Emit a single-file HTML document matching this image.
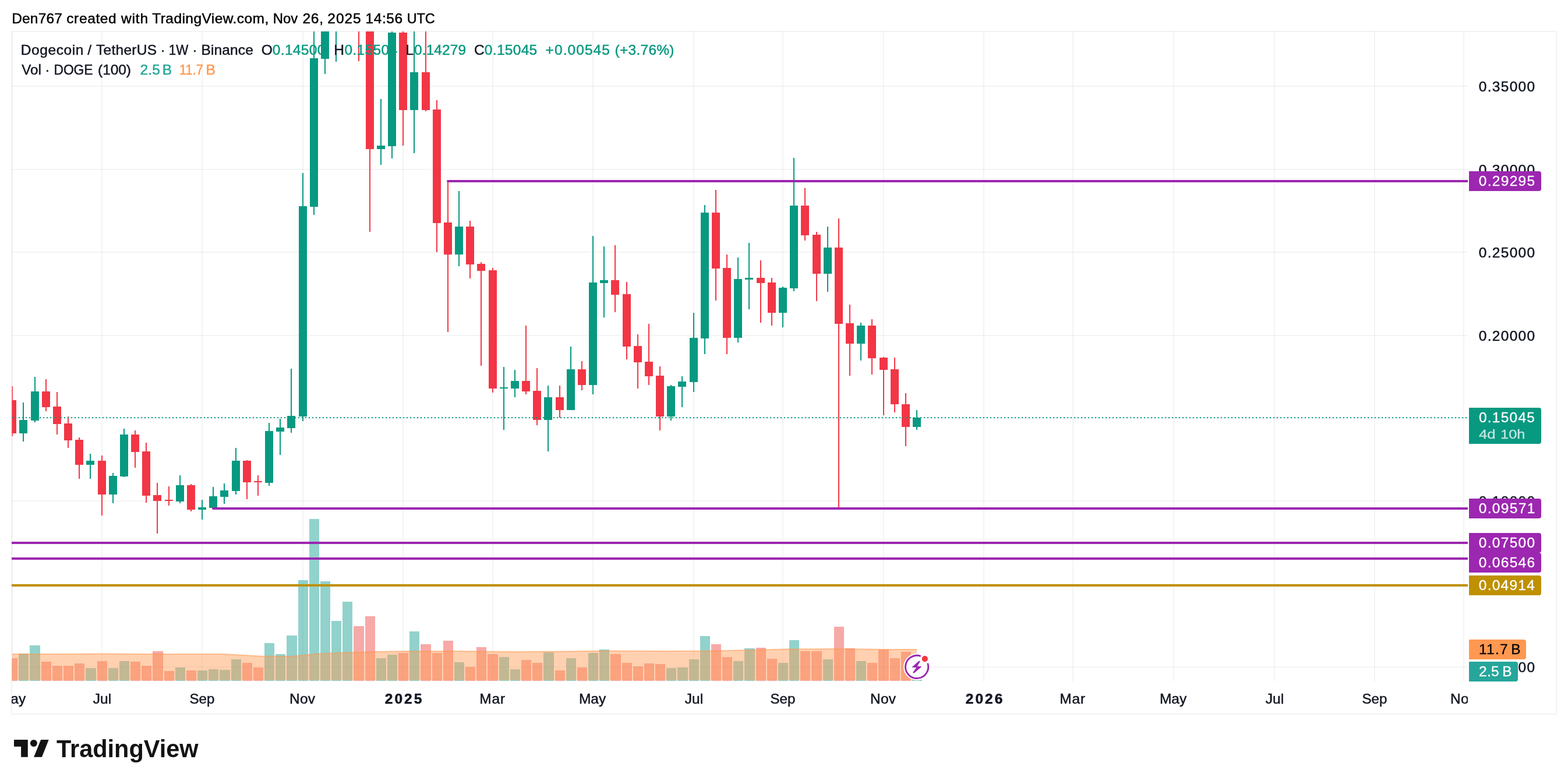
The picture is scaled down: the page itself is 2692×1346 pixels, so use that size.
<!DOCTYPE html>
<html lang="en"><head><meta charset="utf-8"><title>DOGEUSDT 1W chart</title>
<style>
html,body{margin:0;padding:0;background:#fff;overflow:hidden;}
svg{display:block;width:100vw;height:auto;}
text{font-family:"Liberation Sans",sans-serif;font-size:24.5px;stroke-width:0.5px;stroke-linejoin:round;white-space:pre;}
.d,.db{fill:#131722;stroke:#131722;}
.g,.gb{fill:#089981;stroke:#089981;}
.w,.wb{fill:#ffffff;stroke:#ffffff;}
.t,.tb{fill:#26a69a;stroke:#26a69a;}
.o,.ob{fill:#ff9850;stroke:#ff9850;}
.k,.kb{fill:#000000;stroke:#000000;}
.f,.fb{fill:#ffffff;stroke:#ffffff;}
.db,.wb,.gb{font-weight:bold;}
.f{opacity:.76;}
</style></head><body>
<svg viewBox="0 0 2692 1346" preserveAspectRatio="xMinYMin meet" role="img" aria-label="Dogecoin / TetherUS weekly chart">
<defs><clipPath id="pane"><rect x="20.5" y="54" width="2499.5" height="1116"/></clipPath>
<clipPath id="tclip"><rect x="20" y="1170" width="2500" height="56"/></clipPath></defs>
<rect width="2692" height="1346" fill="#fff"/>
<rect x="20" y="54" width="2652" height="1172" fill="none" stroke="#f2f2f2" stroke-width="2" shape-rendering="crispEdges"/>
<text x="20.15" y="40" class="k" style="letter-spacing:0.20px;">Den767</text>
<text x="114.25" y="40" class="k" style="letter-spacing:0.62px;">created</text>
<text x="208.05" y="40" class="k" style="letter-spacing:0.80px;">with</text>
<text x="261.25" y="40" class="k" style="letter-spacing:0.44px;">TradingView.com,</text>
<text transform="translate(470.40 40) scale(0.9738 1)" x="-1.75" y="0" class="k">Nov</text>
<text x="519.60" y="40" class="k" style="letter-spacing:0.65px;">26,</text>
<text x="562.30" y="40" class="k" style="letter-spacing:0.98px;">2025</text>
<text x="627.60" y="40" class="k" style="letter-spacing:0.53px;">14:56</text>
<text transform="translate(700.30 40) scale(0.9563 1)" x="-1.75" y="0" class="k">UTC</text>
<g id="grid" fill="#2a2e39" fill-opacity="0.056" shape-rendering="crispEdges" clip-path="url(#pane)">
<rect x="20" y="54" width="2" height="1116"/>
<rect x="174" y="54" width="2" height="1116"/>
<rect x="346" y="54" width="2" height="1116"/>
<rect x="519" y="54" width="2" height="1116"/>
<rect x="691" y="54" width="2" height="1116"/>
<rect x="845" y="54" width="2" height="1116"/>
<rect x="1017" y="54" width="2" height="1116"/>
<rect x="1190" y="54" width="2" height="1116"/>
<rect x="1343" y="54" width="2" height="1116"/>
<rect x="1516" y="54" width="2" height="1116"/>
<rect x="1688" y="54" width="2" height="1116"/>
<rect x="1841" y="54" width="2" height="1116"/>
<rect x="2014" y="54" width="2" height="1116"/>
<rect x="2187" y="54" width="2" height="1116"/>
<rect x="2359" y="54" width="2" height="1116"/>
<rect x="2512" y="54" width="2" height="1116"/>
<rect x="20" y="147" width="2500" height="2"/>
<rect x="20" y="290" width="2500" height="2"/>
<rect x="20" y="432" width="2500" height="2"/>
<rect x="20" y="575" width="2500" height="2"/>
<rect x="20" y="717" width="2500" height="2"/>
<rect x="20" y="859" width="2500" height="2"/>
<rect x="20" y="1002" width="2500" height="2"/>
<rect x="20" y="1144" width="2500" height="2"/>
</g>
<g id="volume" clip-path="url(#pane)" shape-rendering="crispEdges">
<rect x="13" y="1130" width="17" height="39" fill="#ef5350" fill-opacity="0.5"/>
<rect x="32" y="1122" width="17" height="47" fill="#26a69a" fill-opacity="0.5"/>
<rect x="51" y="1108" width="18" height="61" fill="#26a69a" fill-opacity="0.5"/>
<rect x="71" y="1136" width="17" height="33" fill="#ef5350" fill-opacity="0.5"/>
<rect x="90" y="1143" width="17" height="26" fill="#ef5350" fill-opacity="0.5"/>
<rect x="109" y="1143" width="17" height="26" fill="#ef5350" fill-opacity="0.5"/>
<rect x="128" y="1139" width="17" height="30" fill="#ef5350" fill-opacity="0.5"/>
<rect x="147" y="1147" width="18" height="22" fill="#26a69a" fill-opacity="0.5"/>
<rect x="167" y="1135" width="17" height="34" fill="#ef5350" fill-opacity="0.5"/>
<rect x="186" y="1147" width="17" height="22" fill="#26a69a" fill-opacity="0.5"/>
<rect x="205" y="1135" width="17" height="34" fill="#26a69a" fill-opacity="0.5"/>
<rect x="224" y="1136" width="17" height="33" fill="#ef5350" fill-opacity="0.5"/>
<rect x="243" y="1143" width="17" height="26" fill="#ef5350" fill-opacity="0.5"/>
<rect x="262" y="1118" width="18" height="51" fill="#ef5350" fill-opacity="0.5"/>
<rect x="282" y="1152" width="17" height="17" fill="#ef5350" fill-opacity="0.5"/>
<rect x="301" y="1146" width="17" height="23" fill="#26a69a" fill-opacity="0.5"/>
<rect x="320" y="1151" width="17" height="18" fill="#ef5350" fill-opacity="0.5"/>
<rect x="339" y="1151" width="17" height="18" fill="#26a69a" fill-opacity="0.5"/>
<rect x="358" y="1149" width="17" height="20" fill="#26a69a" fill-opacity="0.5"/>
<rect x="377" y="1150" width="18" height="19" fill="#26a69a" fill-opacity="0.5"/>
<rect x="397" y="1132" width="17" height="37" fill="#26a69a" fill-opacity="0.5"/>
<rect x="416" y="1138" width="17" height="31" fill="#ef5350" fill-opacity="0.5"/>
<rect x="435" y="1146" width="17" height="23" fill="#ef5350" fill-opacity="0.5"/>
<rect x="454" y="1104" width="17" height="65" fill="#26a69a" fill-opacity="0.5"/>
<rect x="473" y="1123" width="17" height="46" fill="#26a69a" fill-opacity="0.5"/>
<rect x="492" y="1091" width="18" height="78" fill="#26a69a" fill-opacity="0.5"/>
<rect x="512" y="996" width="17" height="173" fill="#26a69a" fill-opacity="0.5"/>
<rect x="531" y="891" width="17" height="278" fill="#26a69a" fill-opacity="0.5"/>
<rect x="550" y="998" width="17" height="171" fill="#26a69a" fill-opacity="0.5"/>
<rect x="569" y="1066" width="17" height="103" fill="#26a69a" fill-opacity="0.5"/>
<rect x="588" y="1033" width="17" height="136" fill="#26a69a" fill-opacity="0.5"/>
<rect x="607" y="1075" width="18" height="94" fill="#ef5350" fill-opacity="0.5"/>
<rect x="627" y="1058" width="17" height="111" fill="#ef5350" fill-opacity="0.5"/>
<rect x="646" y="1130" width="17" height="39" fill="#26a69a" fill-opacity="0.5"/>
<rect x="665" y="1124" width="17" height="45" fill="#26a69a" fill-opacity="0.5"/>
<rect x="684" y="1121" width="17" height="48" fill="#ef5350" fill-opacity="0.5"/>
<rect x="703" y="1084" width="17" height="85" fill="#26a69a" fill-opacity="0.5"/>
<rect x="722" y="1106" width="18" height="63" fill="#ef5350" fill-opacity="0.5"/>
<rect x="742" y="1121" width="17" height="48" fill="#ef5350" fill-opacity="0.5"/>
<rect x="761" y="1100" width="17" height="69" fill="#ef5350" fill-opacity="0.5"/>
<rect x="780" y="1137" width="17" height="32" fill="#26a69a" fill-opacity="0.5"/>
<rect x="799" y="1145" width="17" height="24" fill="#ef5350" fill-opacity="0.5"/>
<rect x="818" y="1111" width="17" height="58" fill="#ef5350" fill-opacity="0.5"/>
<rect x="837" y="1123" width="18" height="46" fill="#ef5350" fill-opacity="0.5"/>
<rect x="857" y="1128" width="17" height="41" fill="#26a69a" fill-opacity="0.5"/>
<rect x="876" y="1149" width="17" height="20" fill="#26a69a" fill-opacity="0.5"/>
<rect x="895" y="1133" width="17" height="36" fill="#ef5350" fill-opacity="0.5"/>
<rect x="914" y="1138" width="17" height="31" fill="#ef5350" fill-opacity="0.5"/>
<rect x="933" y="1120" width="18" height="49" fill="#26a69a" fill-opacity="0.5"/>
<rect x="953" y="1151" width="17" height="18" fill="#ef5350" fill-opacity="0.5"/>
<rect x="972" y="1130" width="17" height="39" fill="#26a69a" fill-opacity="0.5"/>
<rect x="991" y="1146" width="17" height="23" fill="#ef5350" fill-opacity="0.5"/>
<rect x="1010" y="1121" width="17" height="48" fill="#26a69a" fill-opacity="0.5"/>
<rect x="1029" y="1115" width="17" height="54" fill="#26a69a" fill-opacity="0.5"/>
<rect x="1048" y="1123" width="18" height="46" fill="#ef5350" fill-opacity="0.5"/>
<rect x="1068" y="1138" width="17" height="31" fill="#ef5350" fill-opacity="0.5"/>
<rect x="1087" y="1144" width="17" height="25" fill="#ef5350" fill-opacity="0.5"/>
<rect x="1106" y="1139" width="17" height="30" fill="#ef5350" fill-opacity="0.5"/>
<rect x="1125" y="1140" width="17" height="29" fill="#ef5350" fill-opacity="0.5"/>
<rect x="1144" y="1147" width="17" height="22" fill="#26a69a" fill-opacity="0.5"/>
<rect x="1163" y="1146" width="18" height="23" fill="#26a69a" fill-opacity="0.5"/>
<rect x="1183" y="1132" width="17" height="37" fill="#26a69a" fill-opacity="0.5"/>
<rect x="1202" y="1092" width="17" height="77" fill="#26a69a" fill-opacity="0.5"/>
<rect x="1221" y="1106" width="17" height="63" fill="#ef5350" fill-opacity="0.5"/>
<rect x="1240" y="1128" width="17" height="41" fill="#ef5350" fill-opacity="0.5"/>
<rect x="1259" y="1135" width="17" height="34" fill="#26a69a" fill-opacity="0.5"/>
<rect x="1278" y="1113" width="18" height="56" fill="#26a69a" fill-opacity="0.5"/>
<rect x="1298" y="1112" width="17" height="57" fill="#ef5350" fill-opacity="0.5"/>
<rect x="1317" y="1131" width="17" height="38" fill="#ef5350" fill-opacity="0.5"/>
<rect x="1336" y="1138" width="17" height="31" fill="#26a69a" fill-opacity="0.5"/>
<rect x="1355" y="1099" width="17" height="70" fill="#26a69a" fill-opacity="0.5"/>
<rect x="1374" y="1118" width="17" height="51" fill="#ef5350" fill-opacity="0.5"/>
<rect x="1393" y="1118" width="18" height="51" fill="#ef5350" fill-opacity="0.5"/>
<rect x="1413" y="1132" width="17" height="37" fill="#26a69a" fill-opacity="0.5"/>
<rect x="1432" y="1076" width="17" height="93" fill="#ef5350" fill-opacity="0.5"/>
<rect x="1451" y="1113" width="17" height="56" fill="#ef5350" fill-opacity="0.5"/>
<rect x="1470" y="1135" width="17" height="34" fill="#26a69a" fill-opacity="0.5"/>
<rect x="1489" y="1138" width="17" height="31" fill="#ef5350" fill-opacity="0.5"/>
<rect x="1508" y="1115" width="18" height="54" fill="#ef5350" fill-opacity="0.5"/>
<rect x="1528" y="1130" width="17" height="39" fill="#ef5350" fill-opacity="0.5"/>
<rect x="1547" y="1119" width="17" height="50" fill="#ef5350" fill-opacity="0.5"/>
<rect x="1566" y="1157" width="17" height="12" fill="#26a69a" fill-opacity="0.5"/>
<polygon points="21,1123 100,1123 175,1122.5 260,1123 385,1123 420,1125 445,1126.5 500,1127 540,1123 580,1121 640,1119 700,1118 790,1118 880,1119 960,1118.5 1040,1117.5 1150,1118 1230,1117.5 1290,1116 1350,1114.5 1440,1114 1520,1115 1574,1115 1574,1168 20,1168" fill="#ff9850" fill-opacity="0.45" shape-rendering="auto"/>
<polyline points="21,1123 100,1123 175,1122.5 260,1123 385,1123 420,1125 445,1126.5 500,1127 540,1123 580,1121 640,1119 700,1118 790,1118 880,1119 960,1118.5 1040,1117.5 1150,1118 1230,1117.5 1290,1116 1350,1114.5 1440,1114 1520,1115 1574,1115" fill="none" stroke="#ff9850" stroke-opacity="0.55" stroke-width="2" shape-rendering="auto"/>
</g>
<g id="candles" clip-path="url(#pane)" shape-rendering="crispEdges">
<rect x="20" y="663" width="2" height="86" fill="#f23645"/>
<rect x="14" y="687" width="14" height="57" fill="#f23645"/>
<rect x="39" y="691" width="2" height="67" fill="#089981"/>
<rect x="33" y="721" width="14" height="23" fill="#089981"/>
<rect x="59" y="647" width="2" height="78" fill="#089981"/>
<rect x="53" y="672" width="14" height="50" fill="#089981"/>
<rect x="78" y="651" width="2" height="55" fill="#f23645"/>
<rect x="72" y="672" width="14" height="27" fill="#f23645"/>
<rect x="97" y="673" width="2" height="73" fill="#f23645"/>
<rect x="91" y="698" width="14" height="30" fill="#f23645"/>
<rect x="116" y="715" width="2" height="54" fill="#f23645"/>
<rect x="110" y="727" width="14" height="29" fill="#f23645"/>
<rect x="135" y="751" width="2" height="71" fill="#f23645"/>
<rect x="129" y="755" width="14" height="43" fill="#f23645"/>
<rect x="154" y="779" width="2" height="43" fill="#089981"/>
<rect x="148" y="791" width="14" height="7" fill="#089981"/>
<rect x="174" y="782" width="2" height="103" fill="#f23645"/>
<rect x="168" y="791" width="14" height="58" fill="#f23645"/>
<rect x="193" y="812" width="2" height="52" fill="#089981"/>
<rect x="187" y="817" width="14" height="32" fill="#089981"/>
<rect x="212" y="736" width="2" height="83" fill="#089981"/>
<rect x="206" y="746" width="14" height="72" fill="#089981"/>
<rect x="231" y="739" width="2" height="64" fill="#f23645"/>
<rect x="225" y="746" width="14" height="30" fill="#f23645"/>
<rect x="250" y="760" width="2" height="103" fill="#f23645"/>
<rect x="244" y="775" width="14" height="76" fill="#f23645"/>
<rect x="269" y="829" width="2" height="87" fill="#f23645"/>
<rect x="263" y="850" width="14" height="10" fill="#f23645"/>
<rect x="289" y="835" width="2" height="33" fill="#f23645"/>
<rect x="283" y="858" width="14" height="2" fill="#f23645"/>
<rect x="308" y="816" width="2" height="48" fill="#089981"/>
<rect x="302" y="833" width="14" height="28" fill="#089981"/>
<rect x="327" y="831" width="2" height="47" fill="#f23645"/>
<rect x="321" y="833" width="14" height="42" fill="#f23645"/>
<rect x="346" y="858" width="2" height="34" fill="#089981"/>
<rect x="340" y="871" width="14" height="4" fill="#089981"/>
<rect x="365" y="836" width="2" height="39" fill="#089981"/>
<rect x="359" y="852" width="14" height="20" fill="#089981"/>
<rect x="384" y="830" width="2" height="35" fill="#089981"/>
<rect x="378" y="842" width="14" height="11" fill="#089981"/>
<rect x="404" y="769" width="2" height="80" fill="#089981"/>
<rect x="398" y="791" width="14" height="52" fill="#089981"/>
<rect x="423" y="790" width="2" height="67" fill="#f23645"/>
<rect x="417" y="791" width="14" height="37" fill="#f23645"/>
<rect x="442" y="816" width="2" height="35" fill="#f23645"/>
<rect x="436" y="826" width="14" height="2" fill="#f23645"/>
<rect x="461" y="726" width="2" height="108" fill="#089981"/>
<rect x="455" y="740" width="14" height="89" fill="#089981"/>
<rect x="480" y="719" width="2" height="62" fill="#089981"/>
<rect x="474" y="734" width="14" height="7" fill="#089981"/>
<rect x="499" y="633" width="2" height="110" fill="#089981"/>
<rect x="493" y="714" width="14" height="21" fill="#089981"/>
<rect x="519" y="297" width="2" height="426" fill="#089981"/>
<rect x="513" y="354" width="14" height="361" fill="#089981"/>
<rect x="538" y="40" width="2" height="329" fill="#089981"/>
<rect x="532" y="100" width="14" height="255" fill="#089981"/>
<rect x="557" y="40" width="2" height="87" fill="#089981"/>
<rect x="551" y="40" width="14" height="61" fill="#089981"/>
<rect x="576" y="40" width="2" height="66" fill="#089981"/>
<rect x="615" y="40" width="2" height="65" fill="#f23645"/>
<rect x="634" y="40" width="2" height="358" fill="#f23645"/>
<rect x="628" y="40" width="14" height="216" fill="#f23645"/>
<rect x="653" y="170" width="2" height="113" fill="#089981"/>
<rect x="647" y="250" width="14" height="6" fill="#089981"/>
<rect x="672" y="40" width="2" height="232" fill="#089981"/>
<rect x="666" y="56" width="14" height="195" fill="#089981"/>
<rect x="691" y="40" width="2" height="210" fill="#f23645"/>
<rect x="685" y="56" width="14" height="133" fill="#f23645"/>
<rect x="710" y="40" width="2" height="223" fill="#089981"/>
<rect x="704" y="124" width="14" height="65" fill="#089981"/>
<rect x="730" y="40" width="2" height="151" fill="#f23645"/>
<rect x="724" y="124" width="14" height="65" fill="#f23645"/>
<rect x="749" y="172" width="2" height="261" fill="#f23645"/>
<rect x="743" y="188" width="14" height="195" fill="#f23645"/>
<rect x="768" y="311" width="2" height="259" fill="#f23645"/>
<rect x="762" y="382" width="14" height="55" fill="#f23645"/>
<rect x="787" y="328" width="2" height="129" fill="#089981"/>
<rect x="781" y="389" width="14" height="48" fill="#089981"/>
<rect x="806" y="379" width="2" height="99" fill="#f23645"/>
<rect x="800" y="389" width="14" height="65" fill="#f23645"/>
<rect x="825" y="450" width="2" height="178" fill="#f23645"/>
<rect x="819" y="453" width="14" height="12" fill="#f23645"/>
<rect x="845" y="460" width="2" height="214" fill="#f23645"/>
<rect x="839" y="464" width="14" height="203" fill="#f23645"/>
<rect x="864" y="630" width="2" height="108" fill="#089981"/>
<rect x="858" y="665" width="14" height="2" fill="#089981"/>
<rect x="883" y="635" width="2" height="47" fill="#089981"/>
<rect x="877" y="654" width="14" height="13" fill="#089981"/>
<rect x="902" y="559" width="2" height="118" fill="#f23645"/>
<rect x="896" y="654" width="14" height="18" fill="#f23645"/>
<rect x="921" y="632" width="2" height="98" fill="#f23645"/>
<rect x="915" y="671" width="14" height="50" fill="#f23645"/>
<rect x="940" y="662" width="2" height="113" fill="#089981"/>
<rect x="934" y="682" width="14" height="39" fill="#089981"/>
<rect x="960" y="662" width="2" height="55" fill="#f23645"/>
<rect x="954" y="682" width="14" height="22" fill="#f23645"/>
<rect x="979" y="595" width="2" height="109" fill="#089981"/>
<rect x="973" y="634" width="14" height="70" fill="#089981"/>
<rect x="998" y="620" width="2" height="50" fill="#f23645"/>
<rect x="992" y="634" width="14" height="27" fill="#f23645"/>
<rect x="1017" y="405" width="2" height="272" fill="#089981"/>
<rect x="1011" y="485" width="14" height="176" fill="#089981"/>
<rect x="1036" y="423" width="2" height="122" fill="#089981"/>
<rect x="1030" y="481" width="14" height="5" fill="#089981"/>
<rect x="1055" y="421" width="2" height="115" fill="#f23645"/>
<rect x="1049" y="481" width="14" height="25" fill="#f23645"/>
<rect x="1075" y="484" width="2" height="133" fill="#f23645"/>
<rect x="1069" y="505" width="14" height="90" fill="#f23645"/>
<rect x="1094" y="574" width="2" height="93" fill="#f23645"/>
<rect x="1088" y="594" width="14" height="28" fill="#f23645"/>
<rect x="1113" y="556" width="2" height="105" fill="#f23645"/>
<rect x="1107" y="621" width="14" height="25" fill="#f23645"/>
<rect x="1132" y="629" width="2" height="110" fill="#f23645"/>
<rect x="1126" y="645" width="14" height="70" fill="#f23645"/>
<rect x="1151" y="661" width="2" height="61" fill="#089981"/>
<rect x="1145" y="663" width="14" height="52" fill="#089981"/>
<rect x="1170" y="646" width="2" height="53" fill="#089981"/>
<rect x="1164" y="655" width="14" height="9" fill="#089981"/>
<rect x="1190" y="537" width="2" height="136" fill="#089981"/>
<rect x="1184" y="580" width="14" height="76" fill="#089981"/>
<rect x="1209" y="352" width="2" height="256" fill="#089981"/>
<rect x="1203" y="365" width="14" height="216" fill="#089981"/>
<rect x="1228" y="326" width="2" height="190" fill="#f23645"/>
<rect x="1222" y="365" width="14" height="96" fill="#f23645"/>
<rect x="1247" y="437" width="2" height="171" fill="#f23645"/>
<rect x="1241" y="460" width="14" height="120" fill="#f23645"/>
<rect x="1266" y="442" width="2" height="146" fill="#089981"/>
<rect x="1260" y="479" width="14" height="101" fill="#089981"/>
<rect x="1285" y="417" width="2" height="114" fill="#089981"/>
<rect x="1279" y="477" width="14" height="3" fill="#089981"/>
<rect x="1305" y="447" width="2" height="107" fill="#f23645"/>
<rect x="1299" y="477" width="14" height="9" fill="#f23645"/>
<rect x="1324" y="477" width="2" height="82" fill="#f23645"/>
<rect x="1318" y="485" width="14" height="52" fill="#f23645"/>
<rect x="1343" y="492" width="2" height="70" fill="#089981"/>
<rect x="1337" y="494" width="14" height="43" fill="#089981"/>
<rect x="1362" y="271" width="2" height="229" fill="#089981"/>
<rect x="1356" y="353" width="14" height="142" fill="#089981"/>
<rect x="1381" y="323" width="2" height="90" fill="#f23645"/>
<rect x="1375" y="353" width="14" height="51" fill="#f23645"/>
<rect x="1401" y="398" width="2" height="119" fill="#f23645"/>
<rect x="1395" y="403" width="14" height="67" fill="#f23645"/>
<rect x="1420" y="389" width="2" height="112" fill="#089981"/>
<rect x="1414" y="425" width="14" height="45" fill="#089981"/>
<rect x="1439" y="375" width="2" height="496" fill="#f23645"/>
<rect x="1433" y="425" width="14" height="131" fill="#f23645"/>
<rect x="1458" y="523" width="2" height="122" fill="#f23645"/>
<rect x="1452" y="555" width="14" height="35" fill="#f23645"/>
<rect x="1477" y="554" width="2" height="65" fill="#089981"/>
<rect x="1471" y="559" width="14" height="31" fill="#089981"/>
<rect x="1496" y="548" width="2" height="95" fill="#f23645"/>
<rect x="1490" y="559" width="14" height="56" fill="#f23645"/>
<rect x="1516" y="613" width="2" height="100" fill="#f23645"/>
<rect x="1510" y="614" width="14" height="21" fill="#f23645"/>
<rect x="1535" y="614" width="2" height="94" fill="#f23645"/>
<rect x="1529" y="634" width="14" height="60" fill="#f23645"/>
<rect x="1554" y="675" width="2" height="91" fill="#f23645"/>
<rect x="1548" y="694" width="14" height="39" fill="#f23645"/>
<rect x="1573" y="704" width="2" height="34" fill="#089981"/>
<rect x="1567" y="717" width="14" height="16" fill="#089981"/>
</g>
<g id="levels" stroke-width="4" stroke-linecap="round">
<line x1="769" y1="311" x2="2510" y2="311" stroke="#9c27b0"/>
<line x1="366" y1="873" x2="2510" y2="873" stroke="#9c27b0"/>
</g>
<g id="levels2" shape-rendering="crispEdges">
<rect x="2500" y="309" width="20" height="4" fill="#9c27b0"/>
<rect x="2500" y="871" width="20" height="4" fill="#9c27b0"/>
<rect x="20" y="930" width="2500" height="4" fill="#9c27b0"/>
<rect x="20" y="957" width="2500" height="4" fill="#9c27b0"/>
<rect x="20" y="1003" width="2500" height="4" fill="#bf9000"/>
</g>
<line x1="20" y1="717" x2="2520" y2="717" stroke="#089981" stroke-width="2" stroke-dasharray="2 4" shape-rendering="crispEdges"/>
<g id="bolt" transform="translate(1574.1 1144.95)">
<circle r="23" fill="#fff"/>
<path d="M6.7,-18.45 A19.6,19.6 0 1 0 18.6,-6.3" fill="none" stroke="#9c27b0" stroke-width="2.9"/>
<polygon points="3.78,-10.38 5.91,-9.6 0.68,-1.26 8.63,-0.68 -5.15,10.96 -6.89,9.61 -0.68,1.07 -8.83,0.68" fill="#9c27b0"/>
<circle cx="13.75" cy="-13.87" r="5.1" fill="#f23645"/>
</g>
<g id="legend">
<text x="35.85" y="93.8" class="d" style="letter-spacing:0.56px;">Dogecoin</text>
<text x="150.35" y="93.8" class="d">/</text>
<text x="164.95" y="93.8" class="d" style="letter-spacing:0.29px;">TetherUS</text>
<text x="275.55" y="93.8" class="d">·</text>
<text transform="translate(291.20 93.8) scale(0.9099 1)" x="-1.50" y="0" class="d">1W</text>
<text x="330.35" y="93.8" class="d">·</text>
<text x="345.45" y="93.8" class="d" style="letter-spacing:0.13px;">Binance</text>
<text x="448.70" y="93.8" class="d">O</text>
<text x="467.85" y="93.8" class="g" style="letter-spacing:0.32px;">0.14500</text>
<text x="573.25" y="93.8" class="d">H</text>
<text x="591.45" y="93.8" class="g" style="letter-spacing:0.34px;">0.15504</text>
<text x="696.55" y="93.8" class="d">L</text>
<text x="711.05" y="93.8" class="g" style="letter-spacing:0.08px;">0.14279</text>
<text x="813.90" y="93.8" class="d">C</text>
<text x="831.85" y="93.8" class="g" style="letter-spacing:0.30px;">0.15045</text>
<text x="936.60" y="93.8" class="g" style="letter-spacing:1.06px;">+0.00545</text>
<text x="1055.55" y="93.8" class="g" style="letter-spacing:0.27px;">(+3.76%)</text>
<text transform="translate(37.10 127.7) scale(0.9848 1)" x="0.25" y="0" class="d">Vol</text>
<text x="77.25" y="127.7" class="d">·</text>
<text transform="translate(94.10 127.7) scale(0.9295 1)" x="-1.75" y="0" class="d">DOGE</text>
<text x="168.05" y="127.7" class="d" style="letter-spacing:-0.06px;">(100)</text>
<text x="240.40" y="127.7" class="t" style="letter-spacing:0.17px;">2.5</text>
<text x="278.85" y="127.7" class="t">B</text>
<text transform="translate(309.40 127.7) scale(0.8920 1)" x="-1.50" y="0" class="o">11.7</text>
<text x="353.55" y="127.7" class="o">B</text>
</g>
<g id="paxis">
<text x="2538.75" y="156.5" class="d" style="letter-spacing:1.30px;">0.35000</text>
<text x="2538.75" y="299.5" class="d" style="letter-spacing:1.30px;">0.30000</text>
<text x="2538.75" y="441.5" class="d" style="letter-spacing:1.30px;">0.25000</text>
<text x="2538.75" y="584.5" class="d" style="letter-spacing:1.30px;">0.20000</text>
<text x="2538.75" y="868.5" class="d" style="letter-spacing:1.30px;">0.10000</text>
<text x="2538.75" y="1153.5" class="d" style="letter-spacing:1.30px;">0.00000</text>
<path d="M2522,294 H2642 a4,4 0 0 1 4,4 V324 a4,4 0 0 1 -4,4 H2522 Z" fill="#9c27b0"/>
<text x="2538.75" y="318.5" class="w" style="letter-spacing:1.30px;stroke-width:0.3px;">0.29295</text>
<path d="M2522,700 H2642 a4,4 0 0 1 4,4 V758 a4,4 0 0 1 -4,4 H2522 Z" fill="#089981"/>
<text x="2538.95" y="725.2" class="w" style="letter-spacing:1.25px;stroke-width:0.3px;">0.15045</text>
<text transform="translate(2539.20 753.0) scale(1.1613 1)" x="-0.25" y="0" class="f" style="font-size:22.3px;stroke-width:0.3px;">4d</text>
<text transform="translate(2577.70 753.0) scale(1.1420 1)" x="-1.50" y="0" class="f" style="font-size:22.3px;stroke-width:0.3px;">10h</text>
<path d="M2522,856 H2642 a4,4 0 0 1 4,4 V886 a4,4 0 0 1 -4,4 H2522 Z" fill="#9c27b0"/>
<text x="2538.75" y="880.5" class="w" style="letter-spacing:1.34px;stroke-width:0.3px;">0.09571</text>
<path d="M2522,915 H2642 a4,4 0 0 1 4,4 V945 a4,4 0 0 1 -4,4 H2522 Z" fill="#9c27b0"/>
<text x="2538.75" y="939.5" class="w" style="letter-spacing:1.30px;stroke-width:0.3px;">0.07500</text>
<path d="M2522,949 H2642 a4,4 0 0 1 4,4 V979 a4,4 0 0 1 -4,4 H2522 Z" fill="#9c27b0"/>
<text x="2538.75" y="973.5" class="w" style="letter-spacing:1.30px;stroke-width:0.3px;">0.06546</text>
<path d="M2522,988 H2642 a4,4 0 0 1 4,4 V1018 a4,4 0 0 1 -4,4 H2522 Z" fill="#bf9000"/>
<text x="2538.75" y="1012.5" class="w" style="letter-spacing:1.26px;stroke-width:0.3px;">0.04914</text>
<path d="M2522,1098 H2616 a4,4 0 0 1 4,4 V1128 a4,4 0 0 1 -4,4 H2522 Z" fill="#ff9850"/>
<text x="2539.05" y="1122.5" class="k" style="letter-spacing:1.27px;stroke-width:0.3px;">11.7</text>
<text x="2594.25" y="1122.5" class="k" style="stroke-width:0.3px;">B</text>
<path d="M2522,1136 H2602 a4,4 0 0 1 4,4 V1166 a4,4 0 0 1 -4,4 H2522 Z" fill="#26a69a"/>
<text x="2539.10" y="1160.5" class="w" style="letter-spacing:0.23px;stroke-width:0.3px;">2.5</text>
<text x="2579.25" y="1160.5" class="w" style="stroke-width:0.3px;">B</text>
</g>
<g id="taxis" clip-path="url(#tclip)">
<text x="-2.12" y="1208" class="d">May</text>
<text x="159.75" y="1208" class="d" style="letter-spacing:0.12px;">Jul</text>
<text transform="translate(326.50 1208) scale(0.9820 1)" x="-1.00" y="0" class="d">Sep</text>
<text x="497.00" y="1208" class="d" style="letter-spacing:0.25px;">Nov</text>
<text x="660.75" y="1208" class="db" style="letter-spacing:3.00px;stroke-width:0.6px;">2025</text>
<text x="823.25" y="1208" class="d" style="letter-spacing:0.88px;">Mar</text>
<text x="993.88" y="1208" class="d">May</text>
<text x="1175.75" y="1208" class="d" style="letter-spacing:0.12px;">Jul</text>
<text transform="translate(1323.50 1208) scale(0.9820 1)" x="-1.00" y="0" class="d">Sep</text>
<text x="1494.00" y="1208" class="d" style="letter-spacing:0.25px;">Nov</text>
<text x="1657.75" y="1208" class="db" style="letter-spacing:3.00px;stroke-width:0.6px;">2026</text>
<text x="1819.25" y="1208" class="d" style="letter-spacing:0.88px;">Mar</text>
<text x="1990.88" y="1208" class="d">May</text>
<text x="2172.75" y="1208" class="d" style="letter-spacing:0.12px;">Jul</text>
<text transform="translate(2339.50 1208) scale(0.9820 1)" x="-1.00" y="0" class="d">Sep</text>
<text x="2490.00" y="1208" class="d" style="letter-spacing:0.25px;">Nov</text>
</g>
<g id="logo" fill="#131313">
<path d="M24,1270 H47.8 V1299.85 H36.1 V1281.75 H24 Z"/>
<circle cx="57.9" cy="1275.9" r="6"/>
<path d="M70.15,1270 H83.7 L71.9,1299.85 H58.1 Z"/>
<text x="97" y="1299.85" textLength="243.5" lengthAdjust="spacingAndGlyphs" style="font-size:43.3px;font-weight:bold;fill:#131313;stroke:none">TradingView</text>
</g>
</svg></body></html>
